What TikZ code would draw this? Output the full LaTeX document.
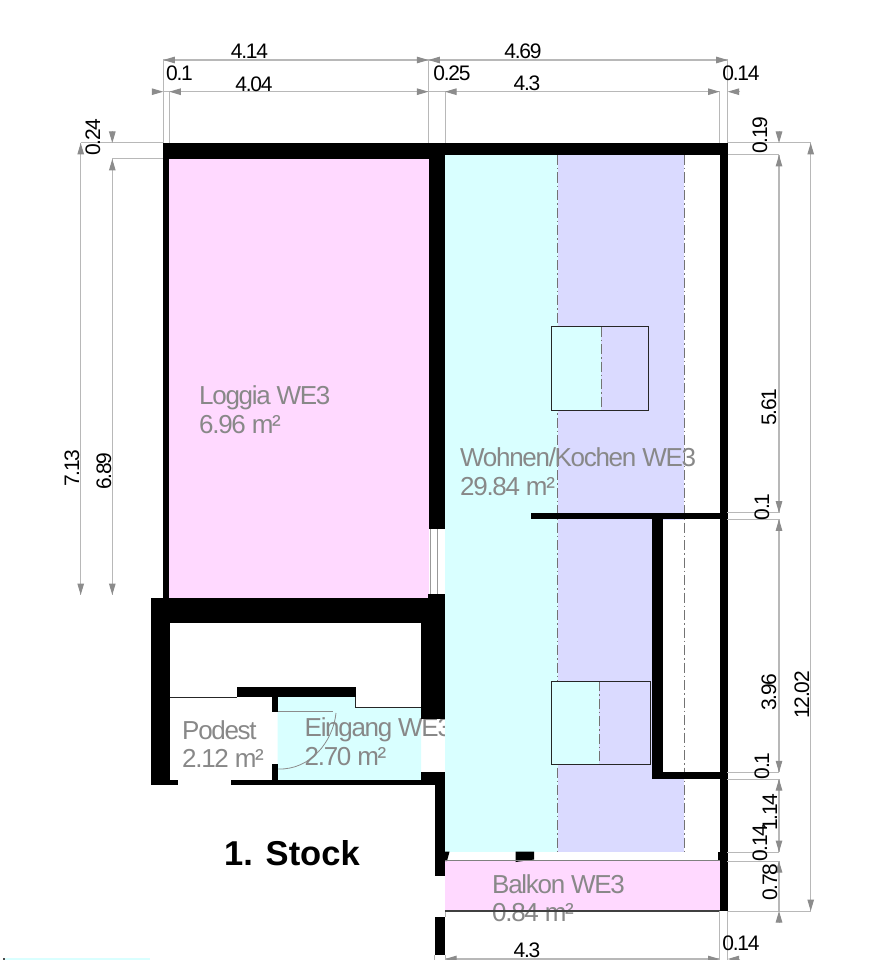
\documentclass[tikz,border=0pt]{standalone}
\usepackage{fontspec}
\setmainfont{Liberation Sans}
\newfontfamily\roomfont[LetterSpace=-5]{Liberation Sans}
\newfontfamily\dimfont[LetterSpace=-6]{Liberation Sans}
\usetikzlibrary{arrows.meta}
\definecolor{pinkroom}{HTML}{FFD9FF}
\definecolor{cyanroom}{HTML}{D9FFFF}
\definecolor{lilacroom}{HTML}{DADAFF}
\definecolor{dimgray}{HTML}{B8B8B8}
\definecolor{tipgray}{HTML}{8C8C8C}
\definecolor{labelgray}{HTML}{888888}
\tikzset{
  wall/.style={fill=black},
  dimline/.style={draw=dimgray,line width=1.4pt},
  dimtip/.style={draw=dimgray,line width=1pt,-{Triangle[length=11.5pt,width=6.5pt,color=tipgray]}},
  axisline/.style={draw=black!55,line width=1pt,dash pattern=on 10pt off 3pt on 1.5pt off 3pt},
  thinline/.style={draw=black!85,line width=1pt},
  dimtext/.style={font=\dimfont\fontsize{21}{21}\selectfont,inner sep=0pt},
  roomtext/.style={font=\roomfont\fontsize{26}{28.5}\selectfont,text=labelgray,align=left,anchor=west,inner sep=0pt}
}
\begin{document}
\begin{tikzpicture}[x=1pt,y=-1pt]

\clip (0,0) rectangle (875,960);
\fill[white] (0,0) rectangle (875,960);

% rooms
\fill[pinkroom] (169.3,159) rectangle (428.5,598.5);
\fill[cyanroom] (277.7,697) -- (355.7,697) -- (355.7,708) -- (421,708) -- (421,780.5) -- (277.7,780.5) -- cycle;
\fill[cyanroom] (5,958) rectangle (150,960);
\fill[black!70] (3,958) rectangle (5,960);

% door
\draw[draw=black!45,line width=1pt] (277.7,711) -- (333.3,711);
\draw[draw=black!45,line width=0.8pt] (336,713) .. controls (333,742) and (310,770) .. (278.3,769);

\draw (304.5,741.5) node[roomtext] (eingang) {Eingang WE3\\2.70 m²};

\fill[cyanroom] (445,155) rectangle (557.5,852);
\fill[lilacroom] (557.5,155) rectangle (684,852);
\fill[white] (652,520) rectangle (719.5,772);
\fill[lilacroom] (557.5,520) rectangle (652.5,772);
\fill[pinkroom] (445,861) rectangle (719.5,911);

% axis lines
\draw[axisline] (557.5,155) -- (557.5,852);
\draw[axisline] (684,155) -- (684,852);

% windows
\fill[cyanroom] (551,326.7) rectangle (601,410);
\fill[lilacroom] (601,326.7) rectangle (648.3,410);
\draw[axisline] (601,326.7) -- (601,410);
\draw[thinline] (551,326.7) rectangle (648.3,410);
\fill[cyanroom] (551,681.3) rectangle (599,764.7);
\fill[lilacroom] (599,681.3) rectangle (650.3,764.7);
\draw[axisline] (599,681.3) -- (599,764.7);
\draw[thinline] (551,681.3) rectangle (650.3,764.7);

% walls
\fill[wall] (163.3,143) rectangle (428.5,159.3);
\fill[wall] (428.5,143) rectangle (727.7,155);
\fill[wall] (163.3,143) rectangle (169.3,600);
\fill[wall] (428.5,143) rectangle (444.7,529);
\fill[wall] (719.5,143) rectangle (727.7,911);
\fill[wall] (151,598.3) rectangle (444.7,622.7);
\fill[wall] (428,594) rectangle (444.7,622);
\fill[wall] (151,598.3) rectangle (169.7,785);
\fill[wall] (169,780) rectangle (177.7,785);
\fill[wall] (420.7,598) rectangle (444.7,719.3);
\fill[wall] (236.7,687.3) rectangle (355.7,697.3);
\fill[wall] (272.3,697) rectangle (277.7,711.7);
\fill[wall] (272.3,764.3) rectangle (277.7,781);
\fill[wall] (230.7,780.3) rectangle (435,785);
\fill[wall] (420.7,772.3) rectangle (444.7,780.5);
\fill[wall] (434.7,772.3) rectangle (445,875.7);
\fill[wall] (445,851.7) -- (449.5,851.7) -- (447,861) -- (445,861) -- cycle;
\fill[wall] (515.7,851.7) -- (534,851.7) -- (534,859.5) -- (515.7,862) -- cycle;
\fill[wall] (717.5,851.7) rectangle (727.7,861);
\fill[wall] (434.7,916.7) rectangle (445,955);
\fill[wall] (531,512.7) rectangle (727,519.3);
\fill[wall] (652.3,519) rectangle (662.7,779);
\fill[wall] (652.3,772.3) rectangle (727,779);

% thin lines
\draw[thinline] (169.5,697) -- (236.7,697);
\draw[thinline] (355.7,697) -- (355.7,707.7) -- (420.7,707.7);
\draw[draw=black!40,line width=1pt] (430,529) -- (430,594);
\draw[draw=black!40,line width=1pt] (437,529) -- (437,594);
\draw[draw=black!50,line width=1pt] (445,860.5) -- (720,860.5);
\draw[draw=black!30,line width=1pt] (434.7,955) -- (434.7,960);
\draw[draw=black!30,line width=1pt] (445,911) -- (445,917);
\draw[draw=black!30,line width=1pt] (445,955) -- (445,960);

% room labels
\draw (199,409.5) node[roomtext] (loggia) {Loggia WE3\\6.96 m²};
\draw (460,471.5) node[roomtext] (wohnen) {Wohnen/Kochen WE3\\29.84 m²};
\draw (182,744) node[roomtext] (podest) {Podest\\2.12 m²};
\draw (492,898) node[roomtext] (balkon) {Balkon WE3\\0.84 m²};
\draw[draw=black!75,line width=1.2pt] (445,911) -- (720,911);
\draw (224,853) node[font=\bfseries\fontsize{34.5}{35}\selectfont,anchor=west,inner sep=0pt] (stock) {1. Stock};

% extension lines
\foreach \xa/\ya/\xb/\yb in {163.3/60/163.3/143,169.3/91.7/169.3/143,428.4/60/428.4/143,445/91.7/445/143,
  719.5/91.7/719.5/143,727.7/60/727.7/143,719.5/911/719.5/960,727.7/911/727.7/960,
  80.7/143/163.3/143,112.3/159/163.3/159,727.7/143/810.7/143,727.7/155/779/155,
  727/512.7/779/512.7,727/519.3/779/519.3,727/772.3/779/772.3,727/779/779/779,
  727/852/779/852,727/861/779/861,727/911/810.7/911}
  \draw[draw=dimgray,line width=1pt] (\xa,\ya) -- (\xb,\yb);

% dimension lines
\foreach \xa/\ya/\xb/\yb in {163.3/60/727.7/60,163.3/91.7/719.5/91.7,445/959/719.5/959,
  779/155/779/512.7,779/519.3/779/772.3,779/779/779/852,779/861/779/911,
  810.7/143/810.7/911,80.7/143/80.7/595,112.3/159/112.3/595}
  \draw[dimline] (\xa,\ya) -- (\xb,\yb);

% arrow tips
\foreach \xa/\ya/\xb/\yb in {175/60/163.3/60,417/60/428.4/60,440/60/428.4/60,716/60/727.7/60,
  152/91.7/163.3/91.7,181/91.7/169.3/91.7,417/91.7/428.4/91.7,457/91.7/445/91.7,708/91.7/719.5/91.7,740/91.7/727.7/91.7,
  457/959/445/959,708/959/719.5/959,740/959/727.7/959,
  779/131/779/143,779/167/779/155,779/501/779/512.7,779/531/779/519.3,779/761/779/772.3,779/791/779/779,
  779/840/779/852,779/873/779/861,779/922/779/911,
  810.7/155/810.7/143,810.7/899/810.7/911,
  80.7/155/80.7/143,80.7/583/80.7/595,
  112.3/131/112.3/143,112.3/171/112.3/159,112.3/583/112.3/595}
  \draw[dimtip] (\xa,\ya) -- (\xb,\yb);

% dimension labels
\draw (249.5,51) node[dimtext] (d414) {4.14};
\draw (254,84) node[dimtext] (d404) {4.04};
\draw (179.5,73) node[dimtext] (d01a) {0.1};
\draw (452,73) node[dimtext] (d025) {0.25};
\draw (523,51) node[dimtext] (d469) {4.69};
\draw (527,83) node[dimtext] (d43a) {4.3};
\draw (741,73) node[dimtext] (d014a) {0.14};
\draw (527,950) node[dimtext] (d43b) {4.3};
\draw (741,943) node[dimtext] (d014b) {0.14};
\draw (93,137) node[dimtext,rotate=90] (d024) {0.24};
\draw (72,468) node[dimtext,rotate=90] (d713) {7.13};
\draw (104,471) node[dimtext,rotate=90] (d689) {6.89};
\draw (760,135) node[dimtext,rotate=90] (d019) {0.19};
\draw (769,407) node[dimtext,rotate=90] (d561) {5.61};
\draw (762,507) node[dimtext,rotate=90] (d01b) {0.1};
\draw (769,692) node[dimtext,rotate=90] (d396) {3.96};
\draw (802,695) node[dimtext,rotate=90] (d1202) {12.02};
\draw (762,766) node[dimtext,rotate=90] (d01c) {0.1};
\draw (770,812) node[dimtext,rotate=90] (d114) {1.14};
\draw (760,843) node[dimtext,rotate=90] (d014c) {0.14};
\draw (770,882) node[dimtext,rotate=90] (d078) {0.78};

\end{tikzpicture}
\end{document}
